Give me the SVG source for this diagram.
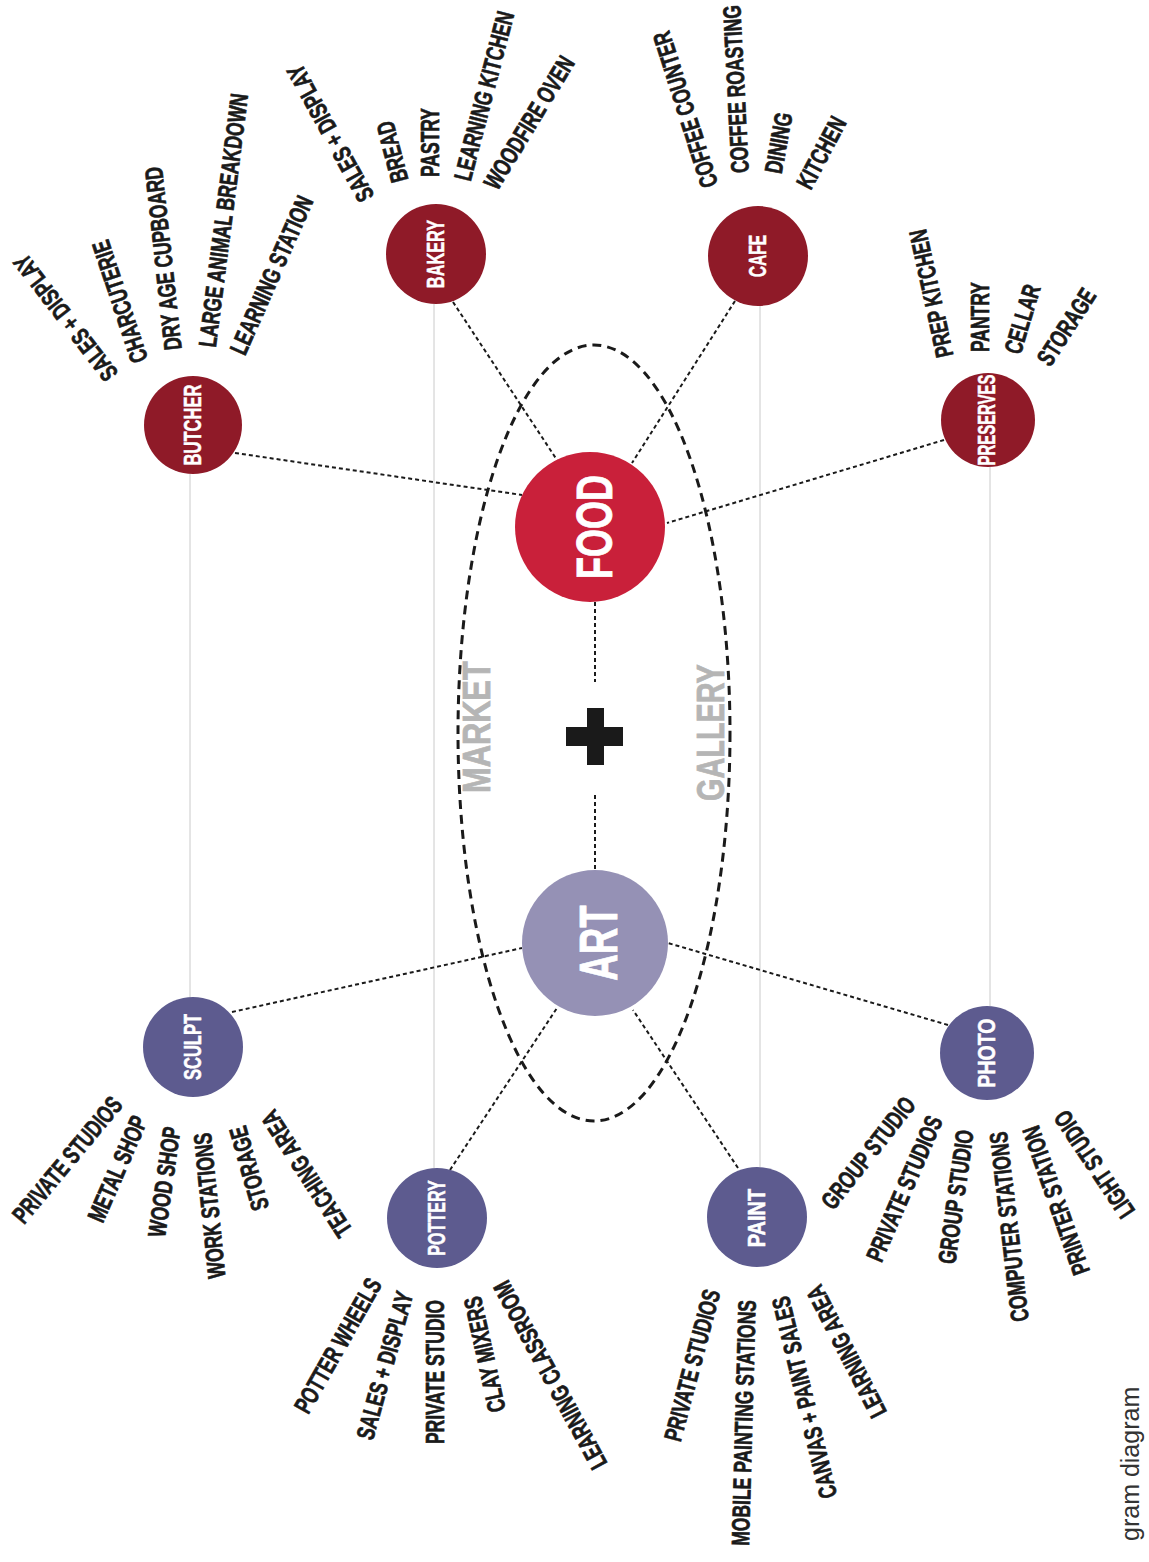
<svg xmlns="http://www.w3.org/2000/svg" width="1149" height="1562" viewBox="0 0 1149 1562">
<style>
.lbl{font-family:"Liberation Sans",Arial,sans-serif;font-weight:bold;font-size:25px;fill:#1a1a1a;stroke:#1a1a1a;stroke-width:0.7px}
.nl{font-family:"Liberation Sans",Arial,sans-serif;font-weight:bold;font-size:23px;fill:#fff;stroke:#fff;stroke-width:0.5px}
.big{font-family:"Liberation Sans",Arial,sans-serif;font-weight:bold;fill:#fff;stroke:#fff;stroke-width:0.8px}
.cat{font-family:"Liberation Sans",Arial,sans-serif;font-weight:bold;font-size:39px;fill:#b5b5b5;stroke:#b5b5b5;stroke-width:0.8px}
.red{fill:#8f1a28}
.pur{fill:#5d5b8f}
.dot{stroke:#1a1a1a;stroke-width:2;stroke-dasharray:4 3;fill:none}
.thin{stroke:#bdbdbd;stroke-width:0.8;fill:none}
</style>
<rect width="1149" height="1562" fill="#fff"/>
<g id="connectors">
<line class="thin" x1="190" y1="474" x2="190" y2="998"/>
<line class="thin" x1="434" y1="304" x2="434" y2="1168"/>
<line class="thin" x1="760" y1="306" x2="760" y2="1167"/>
<line class="thin" x1="990" y1="467" x2="990" y2="1006"/>
<ellipse cx="594" cy="733" rx="136" ry="388" fill="none" stroke="#1a1a1a" stroke-width="3" stroke-dasharray="9 6"/>
<line class="dot" x1="235" y1="453" x2="522" y2="495"/>
<line class="dot" x1="453" y1="302" x2="557" y2="460"/>
<line class="dot" x1="735" y1="301" x2="632" y2="463"/>
<line class="dot" x1="944" y1="440" x2="667" y2="523"/>
<line class="dot" x1="232" y1="1012" x2="522" y2="948"/>
<line class="dot" x1="450" y1="1170" x2="557" y2="1008"/>
<line class="dot" x1="738" y1="1168" x2="633" y2="1010"/>
<line class="dot" x1="948" y1="1025" x2="668" y2="943"/>
<line class="dot" x1="595" y1="602" x2="595" y2="682"/>
<line class="dot" x1="595" y1="795" x2="595" y2="870"/>
</g>
<g id="market"><text class="cat" transform="translate(490,793) rotate(-90) scale(0.79,1)">MARKET</text></g>
<g id="gallery"><text class="cat" transform="translate(724,801) rotate(-90) scale(0.74,1)">GALLERY</text></g>
<g id="plus">
<rect x="566" y="727" width="57" height="19" fill="#1a1a1a"/>
<rect x="587" y="708" width="17" height="57" fill="#1a1a1a"/>
</g>
<g id="food">
<circle cx="590" cy="527" r="75" fill="#c9203a"/>
<text class="big" font-size="50" text-anchor="middle" transform="translate(612,527) rotate(-90) scale(0.72,1)">FOOD</text>
</g>
<g id="art">
<circle cx="595" cy="943" r="73" fill="#9591b5"/>
<text class="big" font-size="54" text-anchor="middle" transform="translate(617,943) rotate(-90) scale(0.68,1)">ART</text>
</g>
<g id="butcher">
<circle class="red" cx="193" cy="425" r="49"/>
<text class="nl" text-anchor="middle" transform="translate(201,425) rotate(-90) scale(0.72,1)">BUTCHER</text>
<text class="lbl" dy="0.35em" transform="translate(112,378) rotate(-127.6) scale(0.7,1)">SALES + DISPLAY</text>
<text class="lbl" dy="0.35em" transform="translate(140,362) rotate(-108.4) scale(0.7,1)">CHARCUTERIE</text>
<text class="lbl" dy="0.35em" transform="translate(173,350) rotate(-96.2) scale(0.7,1)">DRY AGE CUPBOARD</text>
<text class="lbl" dy="0.35em" transform="translate(207,347) rotate(-82.7) scale(0.7,1)">LARGE ANIMAL BREAKDOWN</text>
<text class="lbl" dy="0.35em" transform="translate(237,353) rotate(-66.2) scale(0.7,1)">LEARNING STATION</text>
</g>
<g id="bakery">
<circle class="red" cx="436" cy="254" r="50"/>
<text class="nl" text-anchor="middle" transform="translate(444,254) rotate(-90) scale(0.71,1)">BAKERY</text>
<text class="lbl" dy="0.35em" transform="translate(367,200) rotate(-118.8) scale(0.7,1)">SALES + DISPLAY</text>
<text class="lbl" dy="0.35em" transform="translate(400,182) rotate(-104.7) scale(0.7,1)">BREAD</text>
<text class="lbl" dy="0.35em" transform="translate(430,177) rotate(-90) scale(0.7,1)">PASTRY</text>
<text class="lbl" dy="0.35em" transform="translate(462,180) rotate(-75.4) scale(0.7,1)">LEARNING KITCHEN</text>
<text class="lbl" dy="0.35em" transform="translate(490,187) rotate(-58.8) scale(0.7,1)">WOODFIRE OVEN</text>
</g>
<g id="cafe">
<circle class="red" cx="758" cy="256" r="50"/>
<text class="nl" text-anchor="middle" transform="translate(766,256) rotate(-90) scale(0.68,1)">CAFE</text>
<text class="lbl" dy="0.35em" transform="translate(710,187) rotate(-107.7) scale(0.7,1)">COFFEE COUNTER</text>
<text class="lbl" dy="0.35em" transform="translate(740,173) rotate(-92.9) scale(0.7,1)">COFFEE ROASTING</text>
<text class="lbl" dy="0.35em" transform="translate(773,173) rotate(-79.7) scale(0.7,1)">DINING</text>
<text class="lbl" dy="0.35em" transform="translate(803,187) rotate(-62.1) scale(0.7,1)">KITCHEN</text>
</g>
<g id="preserves">
<circle class="red" cx="988" cy="420" r="47"/>
<text class="nl" font-size="20" text-anchor="middle" transform="translate(995,420) rotate(-90) scale(0.65,1)">PRESERVES</text>
<text class="lbl" dy="0.35em" transform="translate(945,357) rotate(-102.3) scale(0.7,1)">PREP KITCHEN</text>
<text class="lbl" dy="0.35em" transform="translate(980,352) rotate(-90) scale(0.7,1)">PANTRY</text>
<text class="lbl" dy="0.35em" transform="translate(1012,353) rotate(-73.3) scale(0.7,1)">CELLAR</text>
<text class="lbl" dy="0.35em" transform="translate(1043,363) rotate(-57.1) scale(0.7,1)">STORAGE</text>
</g>
<g id="sculpt">
<circle class="pur" cx="193" cy="1047" r="50"/>
<text class="nl" text-anchor="middle" transform="translate(201,1047) rotate(-90) scale(0.72,1)">SCULPT</text>
<text class="lbl" dy="0.35em" text-anchor="end" transform="translate(117,1100) rotate(-50.2) scale(0.7,1)">PRIVATE STUDIOS</text>
<text class="lbl" dy="0.35em" text-anchor="end" transform="translate(140,1117) rotate(-66.4) scale(0.7,1)">METAL SHOP</text>
<text class="lbl" dy="0.35em" text-anchor="end" transform="translate(172,1127) rotate(-81.9) scale(0.7,1)">WOOD SHOP</text>
<text class="lbl" dy="0.35em" text-anchor="end" transform="translate(202,1133) rotate(-95.8) scale(0.7,1)">WORK STATIONS</text>
<text class="lbl" dy="0.35em" text-anchor="end" transform="translate(237,1127) rotate(-106) scale(0.7,1)">STORAGE</text>
<text class="lbl" dy="0.35em" text-anchor="end" transform="translate(267,1113) rotate(-123) scale(0.7,1)">TEACHING AREA</text>
</g>
<g id="pottery">
<circle class="pur" cx="437" cy="1218" r="50"/>
<text class="nl" font-size="22" text-anchor="middle" transform="translate(445,1218) rotate(-90) scale(0.7,1)">POTTERY</text>
<text class="lbl" dy="0.35em" text-anchor="end" transform="translate(375,1280) rotate(-60.4) scale(0.7,1)">POTTER WHEELS</text>
<text class="lbl" dy="0.35em" text-anchor="end" transform="translate(405,1292) rotate(-74.5) scale(0.7,1)">SALES + DISPLAY</text>
<text class="lbl" dy="0.35em" text-anchor="end" transform="translate(435,1300) rotate(-90) scale(0.7,1)">PRIVATE STUDIO</text>
<text class="lbl" dy="0.35em" text-anchor="end" transform="translate(472,1297) rotate(-102.4) scale(0.7,1)">CLAY MIXERS</text>
<text class="lbl" dy="0.35em" text-anchor="end" transform="translate(500,1283) rotate(-118.5) scale(0.7,1)">LEARNING CLASSROOM</text>
</g>
<g id="paint">
<circle class="pur" cx="757" cy="1217" r="50"/>
<text class="nl" text-anchor="middle" transform="translate(765,1218) rotate(-90) scale(0.87,1)">PAINT</text>
<text class="lbl" dy="0.35em" text-anchor="end" transform="translate(712,1290) rotate(-75.1) scale(0.7,1)">PRIVATE STUDIOS</text>
<text class="lbl" dy="0.35em" text-anchor="end" transform="translate(747,1300) rotate(-88.4) scale(0.7,1)">MOBILE PAINTING STATIONS</text>
<text class="lbl" dy="0.35em" text-anchor="end" transform="translate(780,1297) rotate(-103.6) scale(0.7,1)">CANVAS + PAINT SALES</text>
<text class="lbl" dy="0.35em" text-anchor="end" transform="translate(813,1287) rotate(-117.3) scale(0.7,1)">LEARNING AREA</text>
</g>
<g id="photo">
<circle class="pur" cx="987" cy="1053" r="47"/>
<text class="nl" text-anchor="middle" transform="translate(995,1053) rotate(-90) scale(0.85,1)">PHOTO</text>
<text class="lbl" dy="0.35em" text-anchor="end" transform="translate(910,1100) rotate(-51.7) scale(0.7,1)">GROUP STUDIO</text>
<text class="lbl" dy="0.35em" text-anchor="end" transform="translate(935,1117) rotate(-66.7) scale(0.7,1)">PRIVATE STUDIOS</text>
<text class="lbl" dy="0.35em" text-anchor="end" transform="translate(965,1130) rotate(-82.1) scale(0.7,1)">GROUP STUDIO</text>
<text class="lbl" dy="0.35em" text-anchor="end" transform="translate(998,1132) rotate(-96.6) scale(0.7,1)">COMPUTER STATIONS</text>
<text class="lbl" dy="0.35em" text-anchor="end" transform="translate(1030,1127) rotate(-109.5) scale(0.7,1)">PRINTER STATION</text>
<text class="lbl" dy="0.35em" text-anchor="end" transform="translate(1060,1113) rotate(-123.7) scale(0.7,1)">LIGHT STUDIO</text>
</g>
<g id="caption">
<text font-family="Liberation Sans, Arial, sans-serif" font-size="25" fill="#333" transform="translate(1139,1541) rotate(-90)">gram diagram</text>
</g>
</svg>
